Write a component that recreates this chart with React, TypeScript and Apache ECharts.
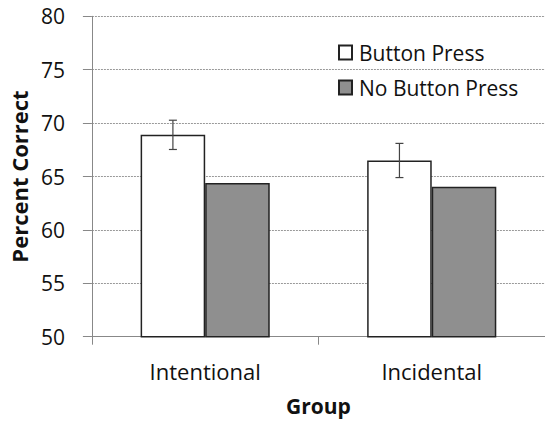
import React, { useEffect, useRef } from "react";
import * as echarts from "echarts";

const categories = ["Intentional", "Incidental"];
const buttonPress = [68.9, 66.5];
const noButtonPress = [64.4, 64.05];
const buttonPressErr = [1.37, 1.6];
const yTicks = { min: 50, max: 80, interval: 5 };

const FONT = "'Open Sans', 'Liberation Sans', sans-serif";

export default function App() {
  const ref = useRef<HTMLDivElement>(null);
  useEffect(() => {
    if (!ref.current) return;
    const chart = echarts.init(ref.current, undefined, { renderer: "svg" });
    const catGap = 0.43;
    chart.setOption({
      animation: false,
      backgroundColor: "#ffffff",
      textStyle: { fontFamily: FONT },
      grid: { left: 91, right: -3, top: 16.3, bottom: 86.3, containLabel: false },
      legend: {
        orient: "vertical",
        left: 333,
        top: 37,
        itemWidth: 13,
        itemHeight: 14,
        itemGap: 14,
        icon: "rect",
        textStyle: { fontSize: 21, color: "#111", fontFamily: FONT, padding: [0, 0, 0, 2] },
        data: ["Button Press", "No Button Press"],
      },
      xAxis: {
        type: "category",
        data: categories,
        axisLine: { show: true, lineStyle: { color: "#888", width: 1 } },
        axisTick: { show: true, length: 8, lineStyle: { color: "#888" } },
        axisLabel: { fontSize: 22, color: "#111", margin: 23, fontFamily: FONT },
        name: "Group",
        nameLocation: "middle",
        nameGap: 59,
        nameTextStyle: { fontSize: 21, fontWeight: "bold", color: "#111", fontFamily: FONT },
      },
      yAxis: {
        type: "value",
        min: yTicks.min,
        max: yTicks.max,
        interval: yTicks.interval,
        axisLine: { show: true, lineStyle: { color: "#888", width: 1 } },
        axisTick: { show: true, length: 9, lineStyle: { color: "#888" } },
        axisLabel: { fontSize: 21, color: "#111", margin: 27, fontFamily: FONT },
        splitLine: { show: true, lineStyle: { color: "#999", type: [2, 1], width: 1 } },
        name: "Percent Correct",
        nameLocation: "middle",
        nameGap: 59,
        nameRotate: 90,
        nameTextStyle: { fontSize: 22, fontWeight: "bold", color: "#111", fontFamily: FONT },
      },
      series: [
        {
          name: "Button Press",
          type: "bar",
          data: buttonPress,
          barGap: "0%",
          barCategoryGap: catGap * 100 + "%",
          itemStyle: { color: "#ffffff", borderColor: "#222", borderWidth: 1.5 },
        },
        {
          name: "No Button Press",
          type: "bar",
          data: noButtonPress,
          barGap: "0%",
          barCategoryGap: catGap * 100 + "%",
          itemStyle: { color: "#8f8f8f", borderColor: "#222", borderWidth: 1.5 },
        },
        {
          type: "custom",
          name: "err",
          z: 5,
          data: buttonPress.map((v, i) => [i, v - buttonPressErr[i], v + buttonPressErr[i]]),
          renderItem: (params: any, api: any) => {
            const band = api.size([1, 0])[0];
            const barW = (band * (1 - catGap)) / 2;
            const lo = api.coord([api.value(0), api.value(1)]);
            const hi = api.coord([api.value(0), api.value(2)]);
            const x = lo[0] - barW / 2;
            const cap = 4;
            const style = { stroke: "#444", lineWidth: 1.2 };
            return {
              type: "group",
              children: [
                { type: "line", shape: { x1: x, y1: lo[1], x2: x, y2: hi[1] }, style },
                { type: "line", shape: { x1: x - cap, y1: lo[1], x2: x + cap, y2: lo[1] }, style },
                { type: "line", shape: { x1: x - cap, y1: hi[1], x2: x + cap, y2: hi[1] }, style },
              ],
            };
          },
        },
      ],
    });
    return () => chart.dispose();
  }, []);
  return <div ref={ref} style={{ width: 545, height: 423, position: "absolute", left: 0, top: 0 }} />;
}
